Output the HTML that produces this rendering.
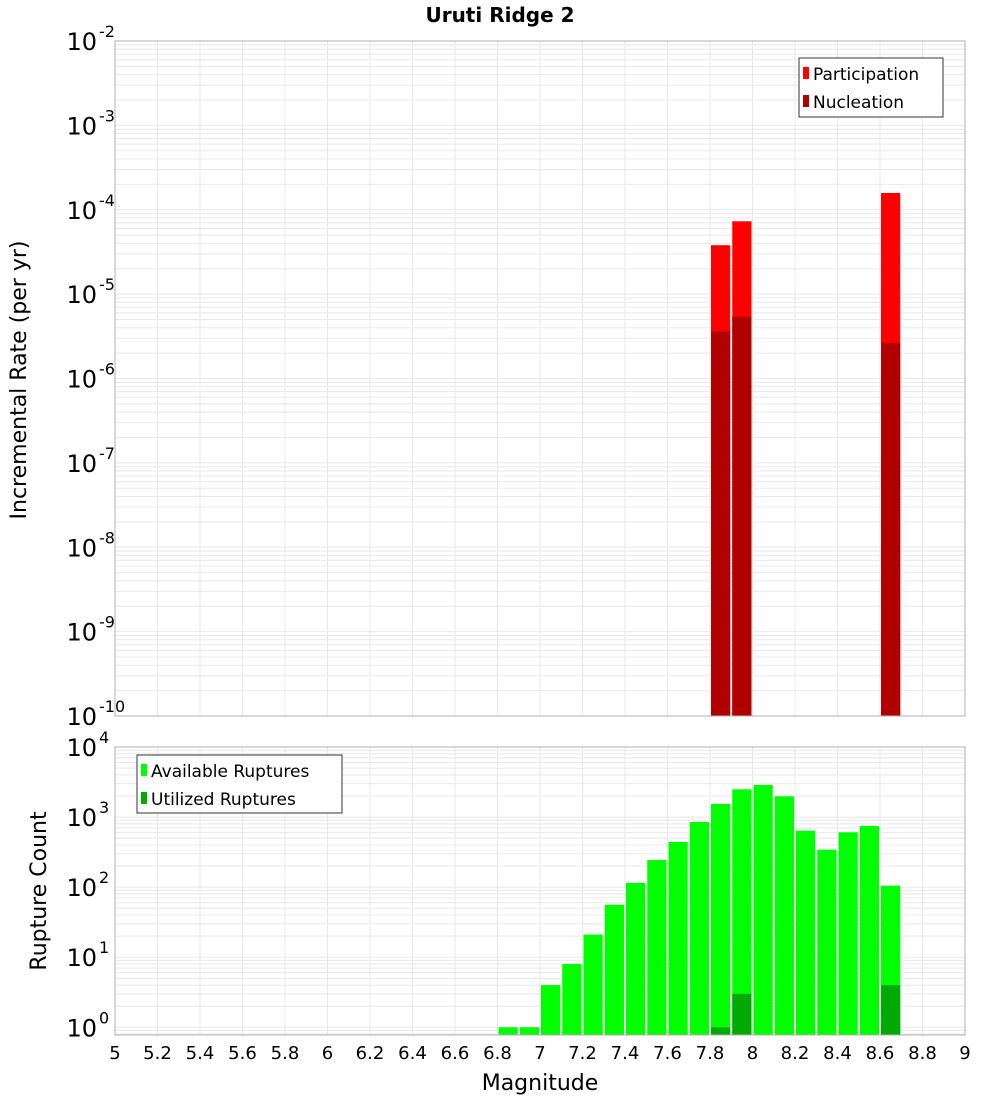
<!DOCTYPE html>
<html><head><meta charset="utf-8">
<style>
body{margin:0;background:#fff;}
svg{display:block;font-family:"DejaVu Sans","Liberation Sans",sans-serif;}
</style></head>
<body>
<svg id="chart" width="1000" height="1100" xmlns="http://www.w3.org/2000/svg">
<text x="500" y="22" text-anchor="middle" font-size="20" font-weight="bold">Uruti Ridge 2</text>
<text transform="translate(26,380) rotate(-90)" text-anchor="middle" font-size="22">Incremental Rate (per yr)</text>
<text transform="translate(46,891) rotate(-90)" text-anchor="middle" font-size="22">Rupture Count</text>
<text x="540" y="1090" text-anchor="middle" font-size="22">Magnitude</text>
<g id="g"></g>
</svg>
<script>
const rateMags = [7.85, 7.95, 8.65];
const participation = [3.8e-5, 7.3e-5, 1.58e-4];
const nucleation = [3.6e-6, 5.4e-6, 2.65e-6];
const countMags = [6.85,6.95,7.05,7.15,7.25,7.35,7.45,7.55,7.65,7.75,7.85,7.95,8.05,8.15,8.25,8.35,8.45,8.55,8.65];
const available = [1,1,4,8,21,56,115,244,441,850,1540,2490,2870,1980,640,343,607,746,105];
const utilMags = [7.85, 7.95, 8.65];
const utilized = [1, 3, 4];
const xTicks = ["5","5.2","5.4","5.6","5.8","6","6.2","6.4","6.6","6.8","7","7.2","7.4","7.6","7.8","8","8.2","8.4","8.6","8.8","9"];
const topExps = [-10,-9,-8,-7,-6,-5,-4,-3,-2];
const botExps = [0,1,2,3,4];

const NS="http://www.w3.org/2000/svg";
const G=document.getElementById('g');
function el(t,a,p){const e=document.createElementNS(NS,t);for(const k in a)e.setAttribute(k,a[k]);(p||G).appendChild(e);return e;}
const X0=115,X1=965;
const xs=m=>X0+(m-5)/4*(X1-X0);
const T={top:41,bot:716,lo:-10,hi:-2};
const B={top:747,bot:1035,lo:-0.11,hi:4};
const ys=(P,v)=>P.bot-(Math.log10(v)-P.lo)/(P.hi-P.lo)*(P.bot-P.top);

function panel(P,name){
  el('rect',{x:X0,y:P.top,width:X1-X0,height:P.bot-P.top,fill:'#fff'});
  for(let d=Math.floor(P.lo);d<Math.ceil(P.hi);d++){
    for(let k=1;k<10;k++){const v=Math.log10(k)+d; if(v<P.lo||v>P.hi)continue;
      const y=P.bot-(v-P.lo)/(P.hi-P.lo)*(P.bot-P.top);
      const l=el('line',{x1:X0,x2:X1,y1:y,y2:y,stroke:'#e8e8e8','stroke-width':1});
      
      }
  }
  xTicks.forEach(t=>{const x=xs(+t);
    const l=el('line',{x1:x,x2:x,y1:P.top,y2:P.bot,stroke:'#e8e8e8','stroke-width':1});
    
    });
}
function border(P,name){
  const r=el('rect',{x:X0,y:P.top,width:X1-X0,height:P.bot-P.top,fill:'none',stroke:'#b0b0b0','stroke-width':1});
  
  
}
function bar(m,v,P,fill,name){
  const x=xs(m-0.05)+1,w=xs(m+0.05)-xs(m-0.05)-2,y=Math.max(ys(P,v),P.top);
  const r=el('rect',{x:x,y:y,width:w,height:P.bot-y,fill:fill});
  
  
}
function ylabels(P,exps,name){
  exps.forEach(e=>{const y=ys(P,Math.pow(10,e));
    const t=el('text',{x:97,y:y+9,'text-anchor':'end','font-size':24});
    t.textContent='10';
    
    
    const s=el('text',{x:99,y:y-4,'font-size':16});
    s.textContent=String(e);
    
    
  });
}
panel(T,'top');panel(B,'bottom');
rateMags.forEach((m,i)=>bar(m,participation[i],T,'#ff0000','participation-bar'));
rateMags.forEach((m,i)=>bar(m,nucleation[i],T,'#b00000','nucleation-bar'));
countMags.forEach((m,i)=>bar(m,available[i],B,'#00ff00','available-bar'));
utilMags.forEach((m,i)=>bar(m,utilized[i],B,'#00aa00','utilized-bar'));
border(T,'top');border(B,'bottom');
ylabels(T,topExps,'top-y');ylabels(B,botExps,'bottom-y');
xTicks.forEach(t=>{const tx=el('text',{x:xs(+t),y:1059,'text-anchor':'middle','font-size':18});
  tx.textContent=t;
  
  });

function legend(x,y,w,h,items,name){
  const g=el('g',{});
  
  
  el('rect',{x:x,y:y,width:w,height:h,fill:'#fff',stroke:'#333','stroke-width':1},g);
  items.forEach((it,i)=>{
    const cy=y+15+i*28;
    el('rect',{x:x+4,y:cy-6,width:6,height:12,fill:it[1]},g);
    const t=el('text',{x:x+14,y:cy+7,'font-size':17},g);
    t.textContent=it[0];
    
    
  });
}
legend(799,58,144,59,[['Participation','#ff0000'],['Nucleation','#b00000']],'top-legend');
legend(137,755,205,58,[['Available Ruptures','#00ff00'],['Utilized Ruptures','#00aa00']],'bottom-legend');
</script>
</body></html>
